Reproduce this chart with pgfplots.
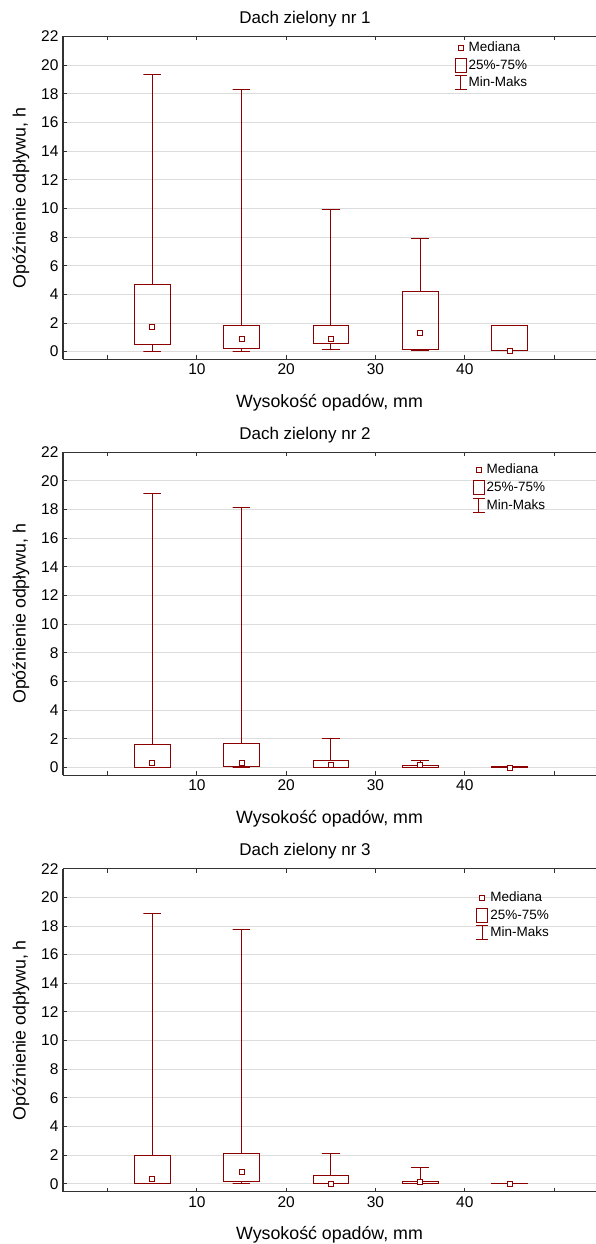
\documentclass[border=0pt]{standalone}
\usepackage{fontspec}
\setmainfont{Liberation Sans}
\usepackage{pgfplots}
\pgfplotsset{compat=1.18}
\definecolor{rA}{RGB}{140,0,0}
\definecolor{gridc}{RGB}{220,220,220}
\definecolor{axc}{RGB}{50,50,50}

% legend symbols as plot marks
\pgfdeclareplotmark{qbox}{%
  \pgfpathrectangle{\pgfqpoint{-5.5pt}{-7pt}}{\pgfqpoint{11pt}{14pt}}%
  \pgfusepathqstroke}
\pgfdeclareplotmark{ibeam}{%
  \pgfpathmoveto{\pgfqpoint{0pt}{-7pt}}\pgfpathlineto{\pgfqpoint{0pt}{7pt}}%
  \pgfpathmoveto{\pgfqpoint{-6pt}{7pt}}\pgfpathlineto{\pgfqpoint{6pt}{7pt}}%
  \pgfpathmoveto{\pgfqpoint{-6pt}{-7pt}}\pgfpathlineto{\pgfqpoint{6pt}{-7pt}}%
  \pgfusepathqstroke}

\pgfplotsset{
  myaxis/.style={
    scale only axis, width=533pt, height=323pt,
    xmin=-5, xmax=54.7, ymin=-0.55, ymax=22,
    anchor=south west,
    cycle list={{rA, line width=0.9pt}},
    axis x line*=box, axis y line*=left,
    axis line style={-, draw=axc, line width=1.1pt},
    xtick={0,10,...,50}, xticklabels={,10,20,30,40,},
    ytick={0,2,...,22},
    tick align=inside, major tick length=4pt,
    tick style={axc, line width=0.9pt},
    ymajorgrids, grid style={gridc, line width=0.9pt},
    unbounded coords=jump,
    /pgf/number format/assume math mode=true,
    tick label style={text=black, font=\fontsize{15.5}{17}\selectfont},
    xticklabel style={yshift=-1pt},
    yticklabel style={xshift=-1pt},
    title style={text=black, font=\fontsize{17}{19}\selectfont, at={(axis description cs:0.454,1.035)}, anchor=center},
    xlabel={Wysokość opadów, mm},
    ylabel={Opóźnienie odpływu, h},
    xlabel style={text=black, font=\fontsize{17.8}{20}\selectfont, at={(axis description cs:0.5,-0.134)}, anchor=center},
    ylabel style={text=black, font=\fontsize{17.8}{20}\selectfont, at={(axis description cs:-0.0788,0.5)}, anchor=center},
    legend style={draw=none, fill=none, inner sep=0pt, text=black, font=\fontsize{13.5}{15}\selectfont, cells={anchor=west}, row sep=2.5pt, anchor=north west},
    legend entries={Mediana, 25\%-75\%, Min-Maks},
  },
  boxstyle/.style={rA, line width=0.9pt, line join=miter, mark=none},
  medstyle/.style={only marks, mark=square*, mark size=2.5pt, rA, mark options={fill=white, line width=0.8pt}},
}

\newcommand{\legimgs}{%
  \addlegendimage{only marks, mark=square*, mark size=2.5pt, rA, mark options={fill=white, line width=0.8pt}}
  \addlegendimage{only marks, mark=qbox, rA, mark options={line width=0.9pt}}
  \addlegendimage{only marks, mark=ibeam, rA, mark options={line width=0.9pt}}
}

\begin{document}
\begin{tikzpicture}
% Panel 1   (box: min, q1, q3, max at x = 5, 15, 25, 35, 45)
\begin{axis}[myaxis, at={(63pt,884.5pt)}, title={Dach zielony nr 1},
  legend style={at={(axis description cs:0.7345,0.99)}}]
\legimgs
\addplot[boxstyle] coordinates {
 (5,0.53) (7,0.53) (7,4.66) (3,4.66) (3,0.53) (5,0.53) (5,nan)
 (5,4.66) (5,19.35) (4,19.35) (6,19.35) (5,nan)
 (5,0.53) (5,0) (4,0) (6,0) (5,nan)
 (15,0.21) (17,0.21) (17,1.81) (13,1.81) (13,0.21) (15,0.21) (15,nan)
 (15,1.81) (15,18.3) (14,18.3) (16,18.3) (15,nan)
 (15,0.21) (15,0.03) (14,0.03) (16,0.03) (15,nan)
 (25,0.58) (27,0.58) (27,1.81) (23,1.81) (23,0.58) (25,0.58) (25,nan)
 (25,1.81) (25,9.95) (24,9.95) (26,9.95) (25,nan)
 (25,0.58) (25,0.14) (24,0.14) (26,0.14) (25,nan)
 (35,0.16) (37,0.16) (37,4.22) (33,4.22) (33,0.16) (35,0.16) (35,nan)
 (35,4.22) (35,7.89) (34,7.89) (36,7.89) (35,nan)
 (35,0.16) (35,0.05) (34,0.05) (36,0.05) (35,nan)
 (45,0.07) (47,0.07) (47,1.81) (43,1.81) (43,0.07) (45,0.07) (45,nan)
 (44,1.81) (46,1.81) (45,nan)
 (45,0.07) (45,0.05) (44,0.05) (46,0.05)
};
\addplot[medstyle] coordinates {(5,1.72) (15,0.9) (25,0.9) (35,1.3) (45,0.07)};
\end{axis}
% Panel 2
\begin{axis}[myaxis, at={(63pt,468.7pt)}, title={Dach zielony nr 2},
  legend style={at={(axis description cs:0.7683,0.97)}}]
\legimgs
\addplot[boxstyle] coordinates {
 (5,0.02) (7,0.02) (7,1.6) (3,1.6) (3,0.02) (5,0.02) (5,nan)
 (5,1.6) (5,19.12) (4,19.12) (6,19.12) (5,nan)
 (5,0.02) (5,0) (4,0) (6,0) (5,nan)
 (15,0.09) (17,0.09) (17,1.69) (13,1.69) (13,0.09) (15,0.09) (15,nan)
 (15,1.69) (15,18.17) (14,18.17) (16,18.17) (15,nan)
 (15,0.09) (15,0) (14,0) (16,0) (15,nan)
 (25,0.02) (27,0.02) (27,0.49) (23,0.49) (23,0.02) (25,0.02) (25,nan)
 (25,0.49) (25,2.04) (24,2.04) (26,2.04) (25,nan)
 (25,0.02) (25,0) (24,0) (26,0) (25,nan)
 (35,0.02) (37,0.02) (37,0.16) (33,0.16) (33,0.02) (35,0.02) (35,nan)
 (35,0.16) (35,0.49) (34,0.49) (36,0.49) (35,nan)
 (35,0.02) (35,0) (34,0) (36,0) (35,nan)
 (45,0) (47,0) (47,0.05) (43,0.05) (43,0) (45,0) (45,nan)
 (45,0.05) (45,0.07) (44,0.07) (46,0.07) (45,nan)
 (44,0) (46,0)
};
\addplot[medstyle] coordinates {(5,0.35) (15,0.35) (25,0.16) (35,0.16) (45,0)};
\end{axis}
% Panel 3
\begin{axis}[myaxis, at={(63pt,52.3pt)}, title={Dach zielony nr 3},
  legend style={at={(axis description cs:0.7752,0.935)}}]
\legimgs
\addplot[boxstyle] coordinates {
 (5,0.05) (7,0.05) (7,1.97) (3,1.97) (3,0.05) (5,0.05) (5,nan)
 (5,1.97) (5,18.89) (4,18.89) (6,18.89) (5,nan)
 (5,0.05) (5,0) (4,0) (6,0) (5,nan)
 (15,0.19) (17,0.19) (17,2.11) (13,2.11) (13,0.19) (15,0.19) (15,nan)
 (15,2.11) (15,17.73) (14,17.73) (16,17.73) (15,nan)
 (15,0.19) (15,0.05) (14,0.05) (16,0.05) (15,nan)
 (25,0) (27,0) (27,0.6) (23,0.6) (23,0) (25,0) (25,nan)
 (25,0.6) (25,2.09) (24,2.09) (26,2.09) (25,nan)
 (24,0) (26,0) (25,nan)
 (35,0.05) (37,0.05) (37,0.16) (33,0.16) (33,0.05) (35,0.05) (35,nan)
 (35,0.16) (35,1.14) (34,1.14) (36,1.14) (35,nan)
 (35,0.05) (35,0) (34,0) (36,0) (35,nan)
 (45,0) (47,0) (47,0.03) (43,0.03) (43,0) (45,0) (45,nan)
 (44,0.03) (46,0.03) (45,nan)
 (44,0) (46,0)
};
\addplot[medstyle] coordinates {(5,0.35) (15,0.84) (25,0.02) (35,0.1) (45,0)};
\end{axis}
\pgfresetboundingbox
\useasboundingbox (0,0) rectangle (596pt,1244pt);
\end{tikzpicture}
\end{document}
